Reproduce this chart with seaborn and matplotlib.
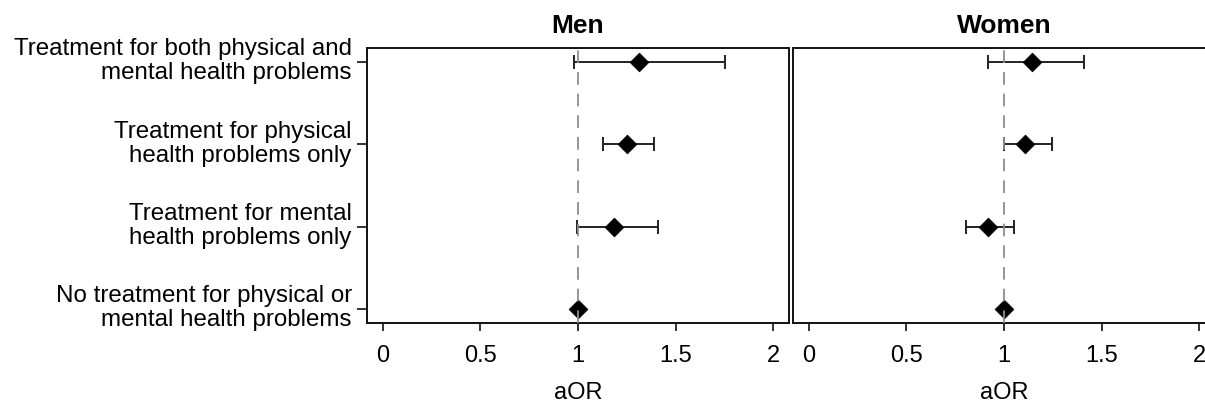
import numpy as np
import pandas as pd
import seaborn as sns
import matplotlib.pyplot as plt
import matplotlib.transforms as mtransforms

# ======================================
# DATA
# ======================================
categories = [
    "Treatment for both physical and\nmental health problems",
    "Treatment for physical\nhealth problems only",
    "Treatment for mental\nhealth problems only",
    "No treatment for physical or\nmental health problems",
]
panels = ["Men", "Women"]

men_aor = [1.313, 1.249, 1.185, 1.0]
men_low = [0.978, 1.127, 0.995, 1.0]
men_high = [1.754, 1.388, 1.407, 1.0]

women_aor = [1.142, 1.108, 0.920, 1.0]
women_low = [0.920, 1.002, 0.806, 1.0]
women_high = [1.407, 1.245, 1.051, 1.0]

x_ticks = [0, 0.5, 1, 1.5, 2]
x_ticklabels = ["0", "0.5", "1", "1.5", "2"]

# ======================================
# TIDY TABLE
# ======================================
rows = []
for panel, aor, lo, hi in [("Men", men_aor, men_low, men_high),
                           ("Women", women_aor, women_low, women_high)]:
    for i, cat in enumerate(categories):
        rows.append({"panel": panel, "category": cat, "pos": i,
                     "aOR": aor[i], "low": lo[i], "high": hi[i]})
df = pd.DataFrame(rows)

# ======================================
# PLOT
# ======================================
sns.set_theme(style="white")
plt.rcParams["font.family"] = ["Liberation Sans", "DejaVu Sans"]
plt.rcParams["text.color"] = "black"
plt.rcParams["axes.labelcolor"] = "black"

fig = plt.figure(figsize=(12.05, 4.04), dpi=100)
ax_men = fig.add_axes([0.3046, 0.2005, 0.3502, 0.6805])
ax_women = fig.add_axes([0.6581, 0.2005, 0.3502, 0.6805])

for ax, panel in [(ax_men, "Men"), (ax_women, "Women")]:
    sub = df[df["panel"] == panel]
    ci = sub[sub["low"] != sub["high"]]

    ax.errorbar(ci["aOR"], ci["pos"],
                xerr=[ci["aOR"] - ci["low"], ci["high"] - ci["aOR"]],
                fmt="none", ecolor="#222222", elinewidth=1.4,
                capsize=4.7, capthick=1.4, zorder=2)
    sns.scatterplot(data=sub, x="aOR", y="pos", marker="D", s=90,
                    color="black", edgecolor="black", linewidth=0.6,
                    ax=ax, zorder=3, legend=False)
    ax.axvline(1, color="#8c8c8c", linestyle=(0, (7, 5)), linewidth=1.3, zorder=4)

    ax.set_xlim(-0.08, 2.08)
    ax.set_ylim(3.17, -0.17)
    ax.set_xticks(x_ticks)
    ax.set_xticklabels(x_ticklabels)
    ax.set_xlabel("aOR", fontsize=17, labelpad=11, color="black")
    ax.set_ylabel("")
    ax.set_title(panel, fontsize=19, fontweight="bold", pad=11, color="black")

    for s in ax.spines.values():
        s.set_visible(True)
        s.set_color("#111111")
        s.set_linewidth(1.4)

    ax.tick_params(axis="x", which="both", bottom=True, length=6, width=1.2,
                   color="#111111", labelsize=17, pad=9.5, labelcolor="black")

    if panel == "Men":
        ax.set_yticks(range(len(categories)))
        ax.set_yticklabels(categories)
        ax.tick_params(axis="y", left=True, length=7, width=1.2,
                       color="#111111", labelsize=17.4, pad=4,
                       labelcolor="black")
        shift = mtransforms.ScaledTranslation(0, 3 / 72, fig.dpi_scale_trans)
        for lab in ax.get_yticklabels():
            lab.set_linespacing(1.12)
            lab.set_transform(lab.get_transform() + shift)
    else:
        ax.set_yticks([])

fig.savefig("out.png", dpi=100)
